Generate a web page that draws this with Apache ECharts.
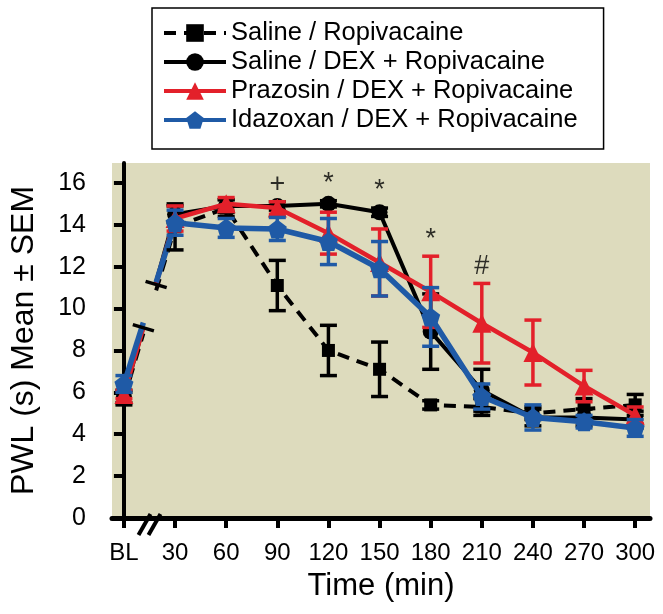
<!DOCTYPE html>
<html><head><meta charset="utf-8">
<script src="https://cdn.jsdelivr.net/npm/echarts@6/dist/echarts.min.js"></script>
<style>html,body{margin:0;padding:0;background:#fff}#c{width:663px;height:614px}</style>
</head><body><div id="c"></div>
<script>
// ---- data ----
const timeLabels = ['BL','30','60','90','120','150','180','210','240','270','300'];
const timeValues = [0,30,60,90,120,150,180,210,240,270,300];
const seriesNames = ['Saline / Ropivacaine','Saline / DEX + Ropivacaine','Prazosin / DEX + Ropivacaine','Idazoxan / DEX + Ropivacaine'];
const salineRopiMean = [5.7, 13.9, 14.8, 11.1, 8.0, 7.1, 5.4, 5.3, 5.0, 5.2, 5.4];
const salineRopiSem  = [0.3, 1.1, 0.4, 1.2, 1.2, 1.3, 0.2, 0.4, 0.3, 0.5, 0.5];
const salineDexMean  = [5.8, 14.5, 14.9, 14.9, 15.0, 14.6, 8.9, 6.1, 4.8, 4.8, 4.7];
const salineDexSem   = [0.3, 0.4, 0.3, 0.2, 0.15, 0.2, 1.8, 1.0, 0.4, 0.4, 0.4];
const prazosinMean   = [5.9, 14.3, 15.0, 14.8, 13.6, 12.2, 10.8, 9.3, 7.9, 6.3, 4.9];
const prazosinSem    = [0.2, 0.6, 0.3, 0.3, 1.0, 1.6, 1.7, 1.9, 1.55, 0.75, 0.4];
const idazoxanMean   = [6.4, 14.1, 13.85, 13.8, 13.2, 11.9, 9.6, 5.8, 4.8, 4.6, 4.3];
const idazoxanSem    = [0.4, 0.6, 0.45, 0.55, 1.1, 1.3, 1.4, 0.6, 0.6, 0.3, 0.4];
const yTicks = [0,2,4,6,8,10,12,14,16];
const sigTimes = [90,120,150,180,210];
const sigMarks = ['+','*','*','*','#'];

// ---- styles ----
const FONT = "'Liberation Sans', Arial, sans-serif";
const colors = ['#000000','#000000','#e3202a','#1f5aa6'];
const symbols = ['rect','circle','triangle','path://M0,-10 L9.5,-3.1 L5.9,8.1 L-5.9,8.1 L-9.5,-3.1 Z'];
const symbolSizes = [13,16,19,19];
const lineWidths = [4,4,4.5,5.5];
const lineTypes = [[12,8],'solid','solid','solid'];
const means = [salineRopiMean, salineDexMean, prazosinMean, idazoxanMean];
const sems = [salineRopiSem, salineDexSem, prazosinSem, idazoxanSem];
const GAP_A = 0.38, GAP_B = 0.63;

function lineData(m){
  const d = [[timeValues[0], m[0]], [(timeValues[0]+timeValues[1])/2, '-']];
  for (let i=1;i<m.length;i++) d.push([timeValues[i], m[i]]);
  return d;
}
function lerp(p,q,t){ return [p[0]+(q[0]-p[0])*t, p[1]+(q[1]-p[1])*t]; }

const series = [];
// broken BL -> 30 segments
series.push({
  type:'custom', name:'_break', silent:true, z:1,
  encode:{x:1, y:2},
  data: seriesNames.map((n,g)=>[g, means[g][0], means[g][1]]),
  renderItem(params, api){
    const g = params.dataIndex;
    const p0 = api.coord([timeValues[0], means[g][0]]);
    const p1 = api.coord([timeValues[1], means[g][1]]);
    const st = {stroke:colors[g], lineWidth:lineWidths[g], lineDash: Array.isArray(lineTypes[g])?lineTypes[g]:null};
    const a = lerp(p0,p1,GAP_A), b = lerp(p0,p1,GAP_B);
    return {type:'group', children:[
      {type:'line', shape:{x1:p0[0],y1:p0[1],x2:a[0],y2:a[1]}, style:st},
      {type:'line', shape:{x1:b[0],y1:b[1],x2:p1[0],y2:p1[1]}, style:st}
    ]};
  }
});
// break caps (black), positioned on the mean of the groups' segments
series.push({
  type:'custom', name:'_caps', silent:true, z:30,
  encode:{x:0, y:1},
  data: [[ means.reduce((s,m)=>s+m[0],0)/means.length, means.reduce((s,m)=>s+m[1],0)/means.length ]],
  renderItem(params, api){
    const p0 = api.coord([timeValues[0], api.value(0)]);
    const p1 = api.coord([timeValues[1], api.value(1)]);
    const dx = p1[0]-p0[0], dy = p1[1]-p0[1], L = Math.hypot(dx,dy);
    const nx = -dy/L*11, ny = dx/L*11;
    const kids = [GAP_A, GAP_B].map(t=>{
      const c = lerp(p0,p1,t);
      return {type:'line', shape:{x1:c[0]-nx,y1:c[1]-ny,x2:c[0]+nx,y2:c[1]+ny}, style:{stroke:'#000', lineWidth:3.5}};
    });
    return {type:'group', children:kids};
  }
});

seriesNames.forEach((name,g)=>{
  series.push({
    type:'custom', name:'_err'+g, silent:true, z:10+2*g,
    encode:{x:0, y:1},
    data: timeValues.map((t,i)=>[t, means[g][i], sems[g][i]]),
    renderItem(params, api){
      const x = api.value(0), m = api.value(1), s = api.value(2);
      const top = api.coord([x, m+s]), bot = api.coord([x, m-s]);
      const hw = 8.5;
      const st = {stroke:colors[g], lineWidth:3.5};
      return {type:'group', children:[
        {type:'line', shape:{x1:top[0],y1:top[1],x2:bot[0],y2:bot[1]}, style:st},
        {type:'line', shape:{x1:top[0]-hw,y1:top[1],x2:top[0]+hw,y2:top[1]}, style:st},
        {type:'line', shape:{x1:bot[0]-hw,y1:bot[1],x2:bot[0]+hw,y2:bot[1]}, style:st}
      ]};
    }
  });
  series.push({
    type:'line', name:name, z:11+2*g,
    data: lineData(means[g]),
    connectNulls:false,
    symbol: symbols[g], symbolSize: symbolSizes[g],
    itemStyle:{color:colors[g], borderWidth:0},
    lineStyle:{color:colors[g], width:lineWidths[g], type:lineTypes[g]},
    animation:false, silent:true
  });
});

// significance marks above highest error bar
const sigData = sigTimes.map(t=>{
  const i = timeValues.indexOf(t);
  return [t, Math.max(...means.map((m,g)=>m[i]+sems[g][i]))];
});
series.push({
  type:'scatter', name:'_sig', z:40, silent:true,
  data: sigData, symbolSize:1, itemStyle:{color:'rgba(0,0,0,0)'},
  label:{show:true, position:'top', distance:3, fontFamily:FONT, fontSize:27, color:'#000',
    formatter: p => sigMarks[p.dataIndex]}
});

const chart = echarts.init(document.getElementById('c'), null, {renderer:'canvas'});
chart.setOption({
  animation:false,
  backgroundColor:'#ffffff',
  grid:{left:108, right:13, top:163, bottom:96, show:true, backgroundColor:'#dddbbd', borderWidth:0},
  legend:{
    data: seriesNames, orient:'vertical', left:152, top:8,
    padding:[12,26,16,10], itemWidth:62, itemHeight:22, itemGap:3,
    borderColor:'#000', borderWidth:1.5, backgroundColor:'#fff', selectedMode:false,
    lineStyle:{width:4},
    textStyle:{fontFamily:FONT, fontSize:25.5, lineHeight:24, color:'#000'}
  },
  xAxis:{
    type:'value', min:-7, max:308.7, offset:7,
    axisLine:{show:true, lineStyle:{color:'#000', width:5}},
    axisTick:{show:true, length:10, customValues:timeValues, lineStyle:{color:'#000', width:4}},
    axisLabel:{customValues:timeValues, formatter: v => timeLabels[timeValues.indexOf(v)],
      fontFamily:FONT, fontSize:24, color:'#000', margin:16},
    splitLine:{show:false},
    name:'Time (min)', nameLocation:'middle', nameGap:46,
    nameTextStyle:{fontFamily:FONT, fontSize:31, color:'#000'}
  },
  yAxis:{
    type:'value', min:0, max:16.95, offset:10,
    axisLine:{show:true, lineStyle:{color:'#000', width:4}},
    axisTick:{show:true, length:10, customValues:yTicks, lineStyle:{color:'#000', width:4}},
    axisLabel:{customValues:yTicks, fontFamily:FONT, fontSize:25, color:'#000', margin:16},
    splitLine:{show:false},
    name:'PWL (s) Mean \u00b1 SEM', nameLocation:'middle', nameGap:62,
    nameTextStyle:{fontFamily:FONT, fontSize:32, color:'#000'}
  },
  series: series
});

// x-axis break mark "//"
const bx = chart.convertToPixel({xAxisIndex:0}, (timeValues[0]+timeValues[1])/2);
const by = chart.convertToPixel({yAxisIndex:0}, 0) + 7;
chart.setOption({graphic:[
  {type:'rect', shape:{x:bx-3.5, y:by-4, width:7, height:8}, style:{fill:'#fff'}, z:100},
  {type:'line', shape:{x1:bx-11, y1:by+10, x2:bx+1, y2:by-11}, style:{stroke:'#000', lineWidth:4}, z:101},
  {type:'line', shape:{x1:bx-1, y1:by+10, x2:bx+11, y2:by-11}, style:{stroke:'#000', lineWidth:4}, z:101}
]});
</script>
</body></html>
